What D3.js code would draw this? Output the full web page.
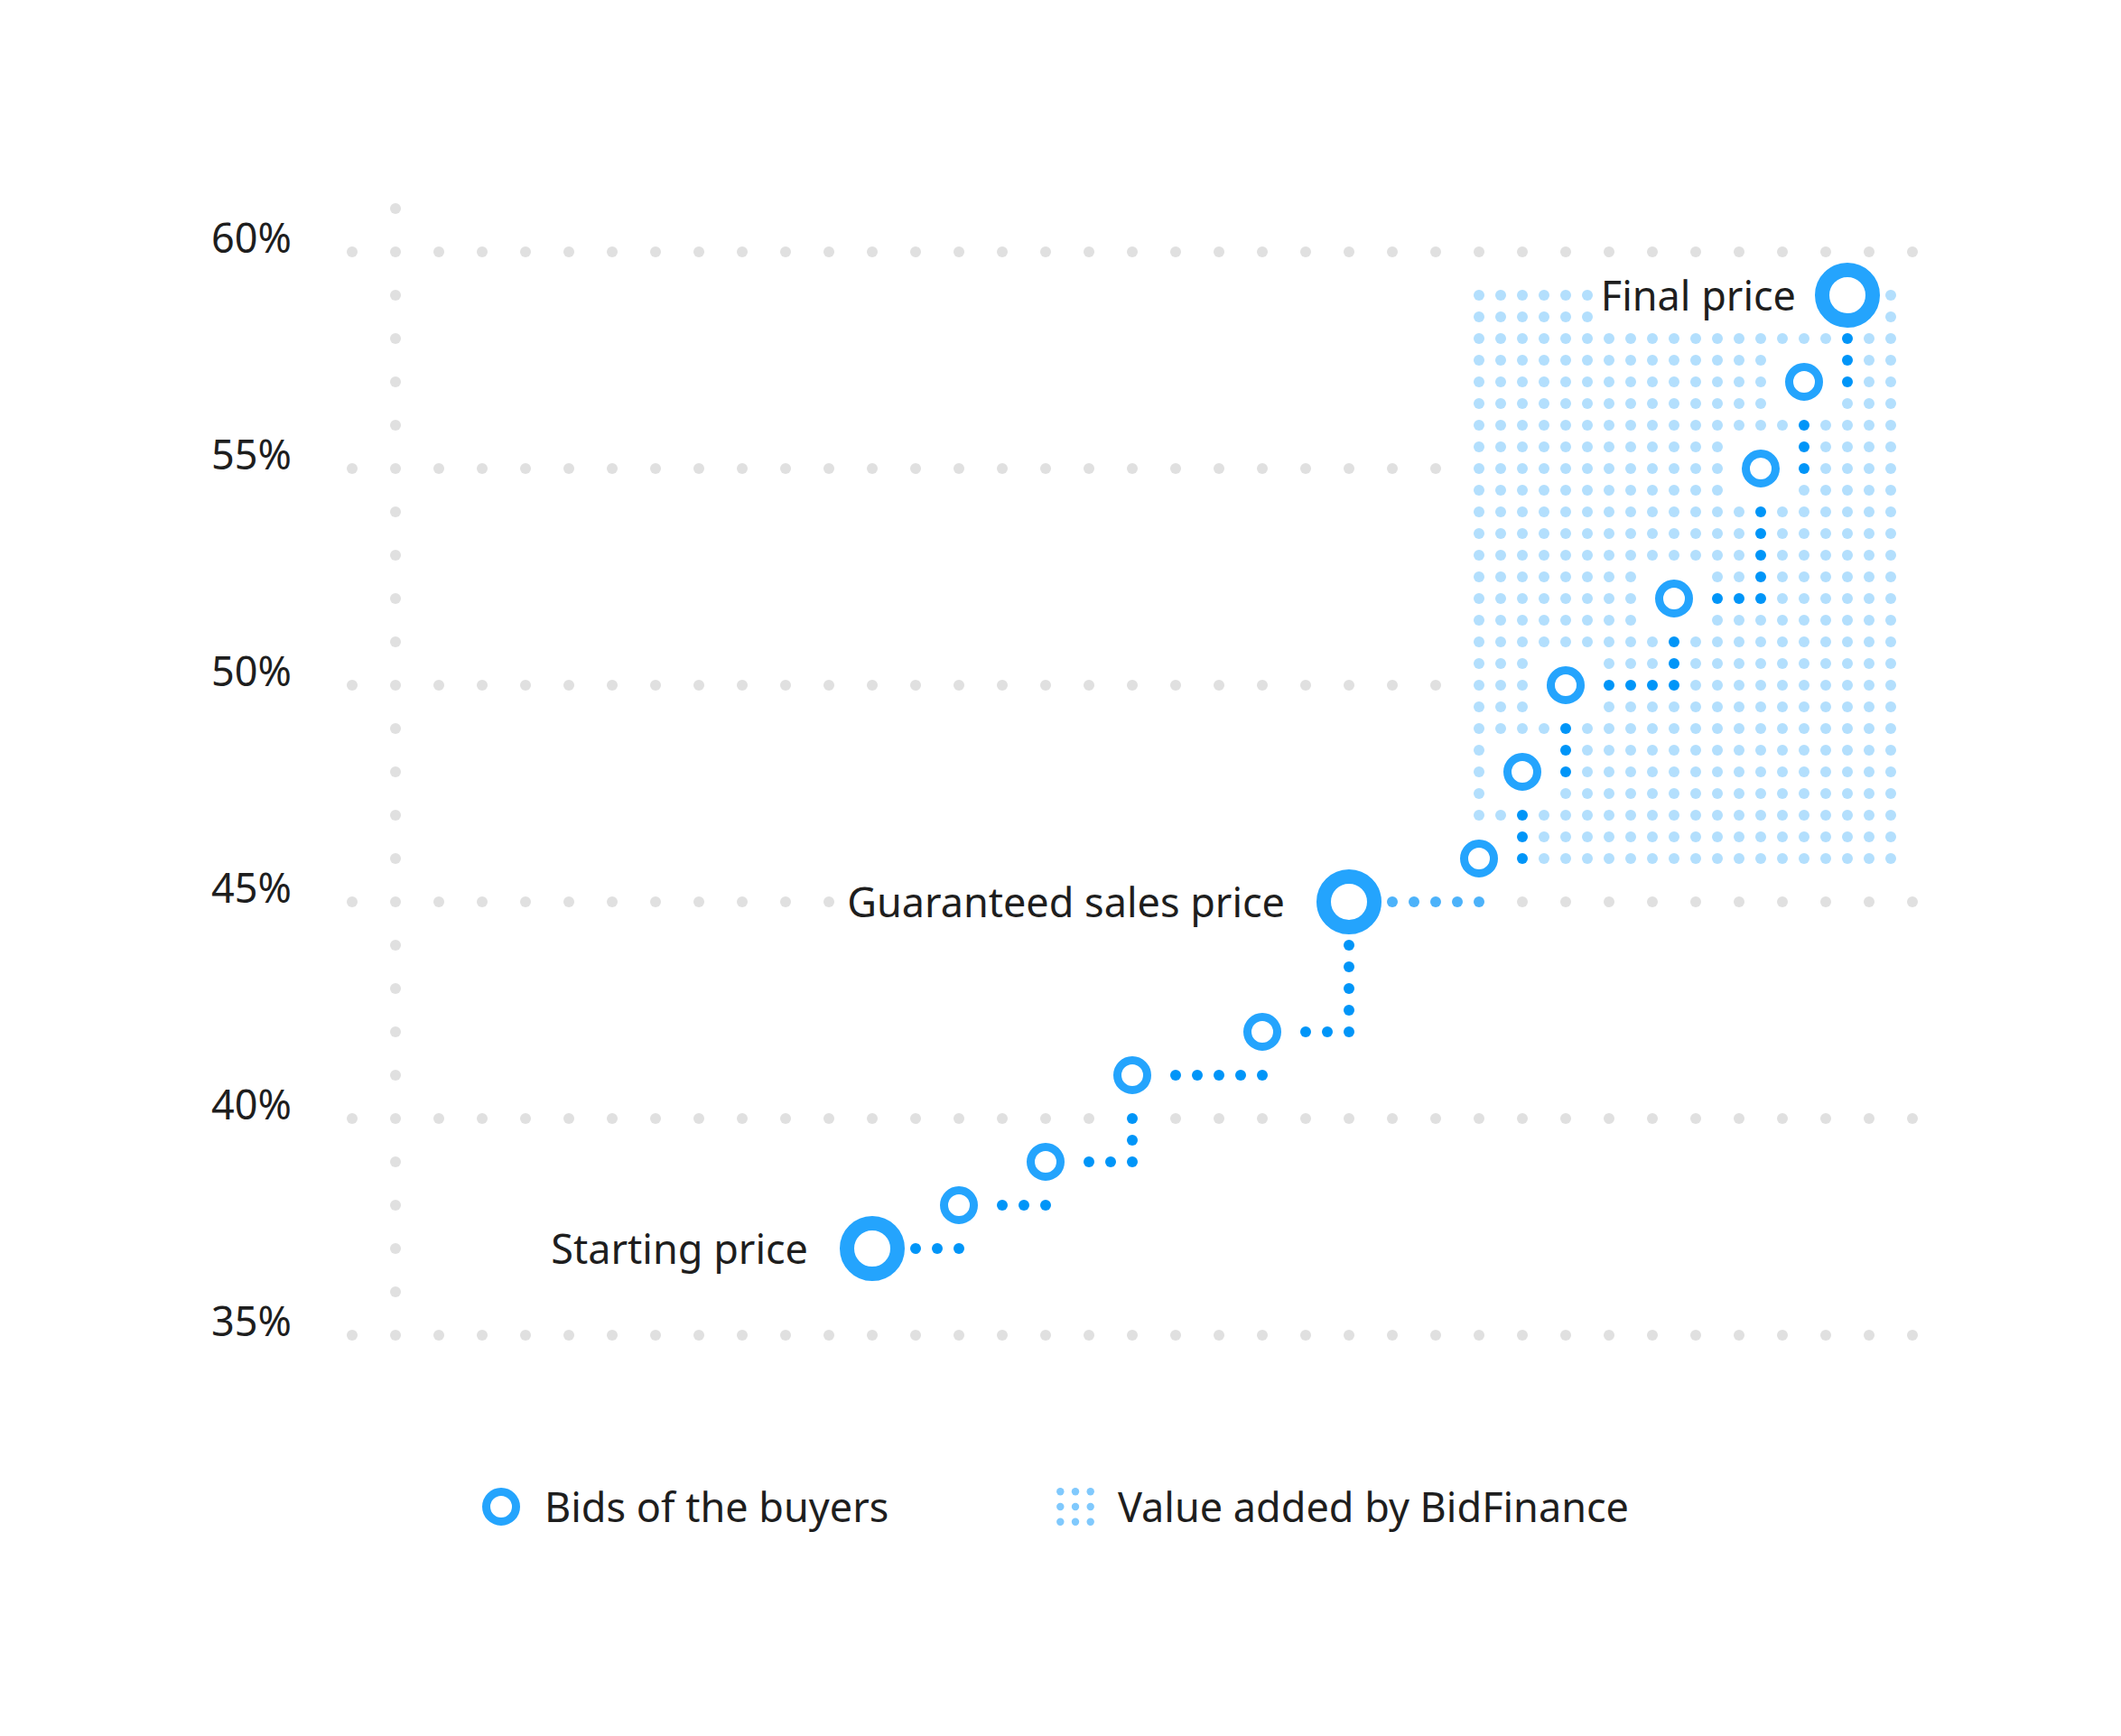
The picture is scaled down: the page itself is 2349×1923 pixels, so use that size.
<!DOCTYPE html>
<html>
<head>
<meta charset="utf-8">
<script src="https://cdn.jsdelivr.net/npm/d3@7"></script>
<style>
  body { margin: 0; background: #fff; }
  text { font-family: "Noto Sans", sans-serif; fill: #1e1e1e; }
</style>
</head>
<body>
<svg id="chart" width="2349" height="1923"></svg>
<script>
// bids (value in %, position in grid columns)
var bidValues = [37, 38, 39, 41, 42, 45, 46, 48, 50, 52, 55, 57, 59];
var bidSteps = [12, 14, 16, 18, 21, 23, 26, 27, 28, 30.5, 32.5, 33.5, 34.5];
var keyBidIndex = [0, 5, 12];
var keyBidLabels = ['Starting price', 'Guaranteed sales price', 'Final price'];
var yTicks = [35, 40, 45, 50, 55, 60];
var addedSteps = [26, 35.5];
var addedValues = [46, 59];
var legendLabels = ['Bids of the buyers', 'Value added by BidFinance'];

var RING = '#24a4fd', CONN = '#0095f8', CONN_SOFT = '#4cb2fa',
    LIGHT = '#b3dffd', GREY = '#e0e0e0', ICON = '#80c9fd';
var FONT = 45;

var svg = d3.select('#chart');
var x = d3.scaleLinear().domain([0, 36]).range([390, 2118]);
var y = d3.scaleLinear().domain([35, 60]).range([1479, 279]);

var half = function(v) { return Math.round(v * 2); };

var bids = bidValues.map(function(v, i) {
    return {value: v, step: bidSteps[i], big: keyBidIndex.indexOf(i) >= 0};
});

var gridG = svg.append('g'),
    lightG = svg.append('g'),
    connG = svg.append('g'),
    ringG = svg.append('g'),
    labelG = svg.append('g');

// labels first, their boxes knock dots out
var boxes = [];
keyBidIndex.forEach(function(idx, i) {
    var b = bids[idx];
    var gap = i == 2 ? 57 : 71;
    var t = labelG.append('text')
        .attr('x', x(b.step) - gap)
        .attr('y', y(b.value))
        .attr('dy', '0.37em')
        .attr('text-anchor', 'end')
        .style('font-size', FONT + 'px')
        .text(keyBidLabels[i]);
    boxes.push(t.node().getBBox());
});

var inBox = function(px, py, pad) {
    return boxes.some(function(bb) {
        return px > bb.x - pad && px < bb.x + bb.width + pad &&
               py > bb.y - pad && py < bb.y + bb.height + pad;
    });
};

var nearRing = function(hs, hv) {
    return bids.some(function(b) {
        return Math.abs(hs - half(b.step)) <= 1 && Math.abs(hv - half(b.value)) <= 1;
    });
};

// stepped dotted connectors: across, then up
var connectors = [];
var taken = {};
for (var i = 0; i < bids.length - 1; i++) {
    var a = bids[i], b = bids[i + 1];
    var pts = [];
    for (var h = half(a.step); h <= half(b.step); h++) pts.push([h, half(a.value)]);
    for (var h = half(a.value) + 1; h <= half(b.value); h++) pts.push([half(b.step), h]);
    pts.forEach(function(p) {
        var cheb = function(c) {
            return Math.max(Math.abs(p[0] - half(c.step)), Math.abs(p[1] - half(c.value)));
        };
        if (cheb(a) <= 1 || cheb(b) <= 1) return;
        if (taken[p[0] + ':' + p[1]]) return;
        taken[p[0] + ':' + p[1]] = true;
        connectors.push({step: p[0] / 2, value: p[1] / 2, seg: i});
    });
}

// grey grid: tick rows and the axis column
var grey = [];
yTicks.forEach(function(v) {
    d3.range(0, 37).forEach(function(s) { grey.push({step: s, value: v}); });
});
d3.range(35, 62).forEach(function(v) {
    if (yTicks.indexOf(v) < 0) grey.push({step: 1, value: v});
});
grey = grey.filter(function(d) {
    // rows running into the value-added block stop at its left edge
    if (d.value >= addedValues[0] && d.value <= addedValues[1] && d.step >= addedSteps[0]) return false;
    if (taken[half(d.step) + ':' + half(d.value)]) return false;
    var px = x(d.step), py = y(d.value);
    if (inBox(px, py, 14)) return false;
    return !bids.some(function(b) {
        var dx = px - x(b.step), dy = py - y(b.value);
        return Math.sqrt(dx * dx + dy * dy) < (b.big ? 50 : 30);
    });
});

gridG.selectAll('circle').data(grey).enter().append('circle')
    .attr('cx', function(d) { return x(d.step); })
    .attr('cy', function(d) { return y(d.value); })
    .attr('r', 6)
    .style('fill', GREY);

// value added area
var light = [];
for (var hs = half(addedSteps[0]); hs <= half(addedSteps[1]); hs++) {
    for (var hv = half(addedValues[0]); hv <= half(addedValues[1]); hv++) {
        if (taken[hs + ':' + hv] || nearRing(hs, hv)) continue;
        if (inBox(x(hs / 2), y(hv / 2), 12)) continue;
        light.push({step: hs / 2, value: hv / 2});
    }
}
lightG.selectAll('circle').data(light).enter().append('circle')
    .attr('cx', function(d) { return x(d.step); })
    .attr('cy', function(d) { return y(d.value); })
    .attr('r', 6)
    .style('fill', LIGHT);

connG.selectAll('circle').data(connectors).enter().append('circle')
    .attr('cx', function(d) { return x(d.step); })
    .attr('cy', function(d) { return y(d.value); })
    .attr('r', 6)
    .style('fill', function(d) { return d.seg == keyBidIndex[1] ? CONN_SOFT : CONN; });

ringG.selectAll('circle').data(bids).enter().append('circle')
    .attr('cx', function(d) { return x(d.step); })
    .attr('cy', function(d) { return y(d.value); })
    .attr('r', function(d) { return d.big ? 28 : 16.5; })
    .style('fill', '#fff')
    .style('stroke', RING)
    .style('stroke-width', function(d) { return d.big ? 16 : 9; });

// y tick labels
labelG.selectAll('text.tick').data(yTicks).enter().append('text')
    .attr('class', 'tick')
    .attr('x', 323)
    .attr('y', function(d) { return y(d) + 1; })
    .attr('text-anchor', 'end')
    .style('font-size', FONT + 'px')
    .text(function(d) { return d + '%'; });

// legend
var legend = svg.append('g').attr('transform', 'translate(0,1669)');
legend.append('circle')
    .attr('cx', 555).attr('cy', 0).attr('r', 16.5)
    .style('fill', '#fff').style('stroke', RING).style('stroke-width', 9);
legend.append('text')
    .attr('x', 603).attr('dy', '0.37em')
    .style('font-size', FONT + 'px')
    .text(legendLabels[0]);

var icon = [];
[-1, 0, 1].forEach(function(r) { [-1, 0, 1].forEach(function(c) { icon.push([c, r]); }); });
legend.selectAll('circle.icon').data(icon).enter().append('circle')
    .attr('class', 'icon')
    .attr('cx', function(d) { return 1191 + d[0] * 16.7; })
    .attr('cy', function(d) { return d[1] * 16.7; })
    .attr('r', 4.2)
    .style('fill', ICON);
legend.append('text')
    .attr('x', 1238).attr('dy', '0.37em')
    .style('font-size', FONT + 'px')
    .text(legendLabels[1]);
</script>
</body>
</html>
